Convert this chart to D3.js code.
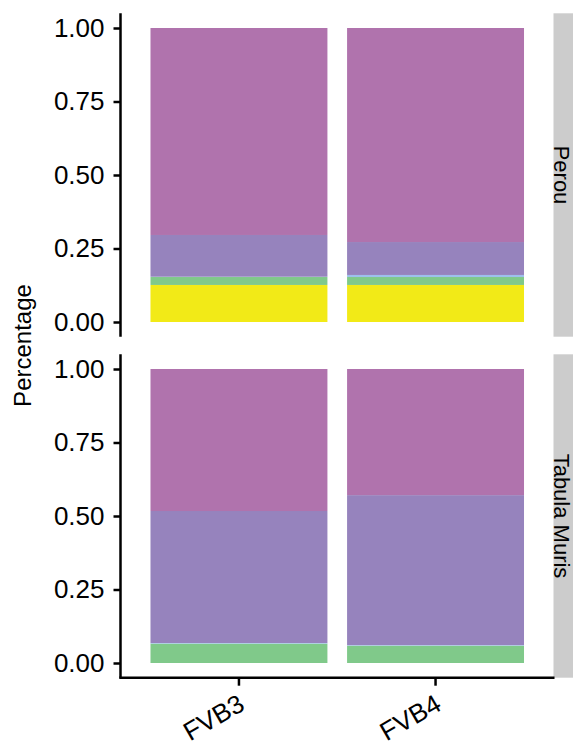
<!DOCTYPE html>
<html><head><meta charset="utf-8">
<script src="https://cdn.jsdelivr.net/npm/d3@7"></script>
<style>body{margin:0;background:#fff}text{font-family:"Liberation Sans",Arial,sans-serif;fill:#000}</style>
</head><body><svg id="c" width="573" height="749"></svg>
<script>
const samples = ["FVB3", "FVB4"];
const panels = ["Perou", "Tabula Muris"];
const groups = ["G1", "G2", "G3", "G4", "G5"]; // bottom to top
const groupColors = ["#F2EA17", "#80C98A", "#9DC0EC", "#9683BD", "#B073AD"];
const perouFVB3 = [0.126, 0.027, 0.001, 0.142, 0.704];
const perouFVB4 = [0.126, 0.027, 0.007, 0.112, 0.728];
const tabulaFVB3 = [0.000, 0.066, 0.002, 0.449, 0.483];
const tabulaFVB4 = [0.000, 0.059, 0.002, 0.510, 0.429];
const yTicks = [0, 0.25, 0.5, 0.75, 1.0];

const values = {
  "Perou": {FVB3: perouFVB3, FVB4: perouFVB4},
  "Tabula Muris": {FVB3: tabulaFVB3, FVB4: tabulaFVB4}
};

const svg = d3.select("#c");
const left = 121, right = 553.5;
const panelTops = [13.3, 354.3], panelH = 323.4;
const stripW = 22;

// ggplot-like discrete scale: 0.6 expansion on each side, bar width 0.9
const x = d3.scalePoint().domain(samples).range([left, right]).padding(0.6);
const step = x.step();
const bw = 0.9 * step;

panels.forEach((p, pi) => {
  const top = panelTops[pi];
  const y = d3.scaleLinear().domain([-0.05, 1.05]).range([top + panelH, top]);
  const g = svg.append("g");
  samples.forEach(s => {
    const vals = values[p][s];
    let cum = 0;
    vals.forEach((v, i) => {
      if (v <= 0) { return; }
      g.append("rect")
        .attr("x", x(s) - bw / 2)
        .attr("width", bw)
        .attr("y", y(cum + v))
        .attr("height", y(cum) - y(cum + v))
        .attr("fill", groupColors[i]);
      cum += v;
    });
  });
  // y axis
  const ax = svg.append("g").attr("transform", `translate(${left - 0.5},0)`)
    .call(d3.axisLeft(y).tickValues(yTicks).tickFormat(d3.format(".2f")).tickSize(7).tickPadding(9));
  ax.select(".domain").attr("d", `M0,${top}V${top + panelH}`).attr("stroke-width", 2.5);
  ax.selectAll(".tick line").attr("stroke-width", 2.5);
  ax.selectAll(".tick text").style("font-size", "26px").attr("fill", "#000");
  // strip
  svg.append("rect").attr("x", right).attr("y", top).attr("width", stripW + 10).attr("height", panelH).attr("fill", "#CCCCCC");
  svg.append("text").attr("transform", `translate(${right + 8.5},${top + panelH / 2}) rotate(90)`)
    .attr("text-anchor", "middle").attr("dy", "0.35em").style("font-size", "22px").text(p);
});

// x axis
const bottom = panelTops[1] + panelH;
const xa = svg.append("g").attr("transform", `translate(0,${bottom})`);
xa.append("line").attr("x1", left - 1.75).attr("x2", right + 1).attr("y1", 0).attr("y2", 0).attr("stroke", "#000").attr("stroke-width", 2.5);
samples.forEach(s => {
  xa.append("line").attr("x1", x(s)).attr("x2", x(s)).attr("y1", 0).attr("y2", 8).attr("stroke", "#000").attr("stroke-width", 2.5);
  xa.append("text").attr("transform", `translate(${x(s) - 2},${15}) rotate(-30)`)
    .attr("text-anchor", "end").attr("dy", "0.72em").style("font-size", "26px").text(s);
});

// y title
svg.append("text").attr("transform", `translate(23,${(panelTops[0] + bottom) / 2}) rotate(-90)`)
  .attr("text-anchor", "middle").attr("dy", "0.35em").style("font-size", "24px").text("Percentage");
</script></body></html>
